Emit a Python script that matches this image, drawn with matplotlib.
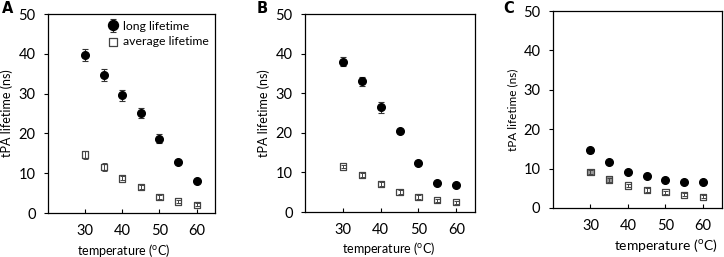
import matplotlib.pyplot as plt

temps = [30, 35, 40, 45, 50, 55, 60]

# panel A
long_a = [39.7, 34.6, 29.6, 25.2, 18.7, 12.8, 8.0]
long_a_err = [1.5, 1.5, 1.4, 1.3, 1.2, 0.6, 0.3]
avg_a = [14.7, 11.5, 8.7, 6.5, 4.0, 2.9, 2.1]
avg_a_err = [1.0, 1.0, 0.5, 0.5, 0.5, 0.4, 0.4]

# panel B
long_b = [38.0, 33.0, 26.5, 20.4, 12.5, 7.4, 6.8]
long_b_err = [1.2, 1.2, 1.4, 0.4, 0.4, 0.3, 0.3]
avg_b = [11.5, 9.4, 7.0, 5.0, 3.8, 3.0, 2.5]
avg_b_err = [0.5, 0.5, 0.5, 0.5, 0.5, 0.4, 0.4]

# panel C
long_c = [14.6, 11.6, 9.1, 8.0, 7.2, 6.7, 6.5]
long_c_err = [0.6, 0.4, 0.3, 0.3, 0.3, 0.3, 0.3]
avg_c = [9.1, 7.2, 5.7, 4.6, 4.0, 3.3, 2.8]
avg_c_err = [0.5, 0.5, 0.5, 0.5, 0.4, 0.4, 0.4]

plt.rcParams['font.family'] = ['Lato', 'DejaVu Sans']
plt.rcParams['mathtext.fontset'] = 'custom'
plt.rcParams['mathtext.rm'] = 'Lato'

fig = plt.figure(figsize=(7.24, 2.57), dpi=100)

panels = [
    ('A', [0.0663, 0.171, 0.231, 0.7745], long_a, long_a_err, avg_a, avg_a_err),
    ('B', [0.4213, 0.175, 0.235, 0.7705], long_b, long_b_err, avg_b, avg_b_err),
    ('C', [0.7638, 0.191, 0.233, 0.766], long_c, long_c_err, avg_c, avg_c_err),
]
letter_x = {'A': 0.003, 'B': 0.355, 'C': 0.695}
xlab_pos = {'A': (0.45, -0.143), 'B': (0.49, -0.143), 'C': (0.67, -0.15)}
xlab_size = {'A': 9, 'B': 9, 'C': 10}
ylab_size = {'A': 9, 'B': 9, 'C': 8.5}

for letter, rect, lng, lng_err, avg, avg_err in panels:
    ax = fig.add_axes(rect)
    face = ['white'] * len(avg)
    if letter == 'C':
        face = ['#9a9a9a', '#9a9a9a'] + ['white'] * 5
    ax.scatter(temps, avg, marker='s', s=20, facecolors=face,
               edgecolors='#444444', linewidths=0.9, zorder=3,
               label='average lifetime')
    ax.errorbar(temps, avg, yerr=avg_err, fmt='none', ecolor='#444444',
                elinewidth=0.7, capsize=1.8, capthick=0.7, zorder=4)
    ax.errorbar(temps, lng, yerr=lng_err, fmt='o', color='black',
                ecolor='#333333', markersize=5.5, elinewidth=0.8,
                capsize=2, capthick=0.8, zorder=5, label='long lifetime')
    ax.set_xlim(20, 65)
    ax.set_ylim(0, 50)
    ax.set_xticks([30, 40, 50, 60])
    ax.set_yticks([0, 10, 20, 30, 40, 50])
    ax.tick_params(axis='x', direction='in', length=3, pad=8, labelsize=10.5)
    ax.tick_params(axis='y', direction='out', length=3, pad=6, labelsize=10.5)
    for sp in ax.spines.values():
        sp.set_linewidth(0.9)
    ax.set_ylabel('tPA lifetime (ns)', fontsize=ylab_size[letter], labelpad=4)
    ax.set_xlabel(r'temperature ($^\mathregular{o}$C)', fontsize=xlab_size[letter])
    ax.xaxis.set_label_coords(*xlab_pos[letter])
    fig.text(letter_x[letter], 0.965, letter, fontsize=10.5, fontweight='bold',
             ha='left', va='center', family='DejaVu Sans')
    if letter == 'A':
        h, l = ax.get_legend_handles_labels()
        ax.legend([h[1], h[0]], [l[1], l[0]], loc='upper right', frameon=False,
                  fontsize=8.8, handletextpad=0.25, borderaxespad=0.15,
                  labelspacing=0.35, handlelength=1.1, markerscale=1.3)

fig.savefig('out.png', dpi=100)
